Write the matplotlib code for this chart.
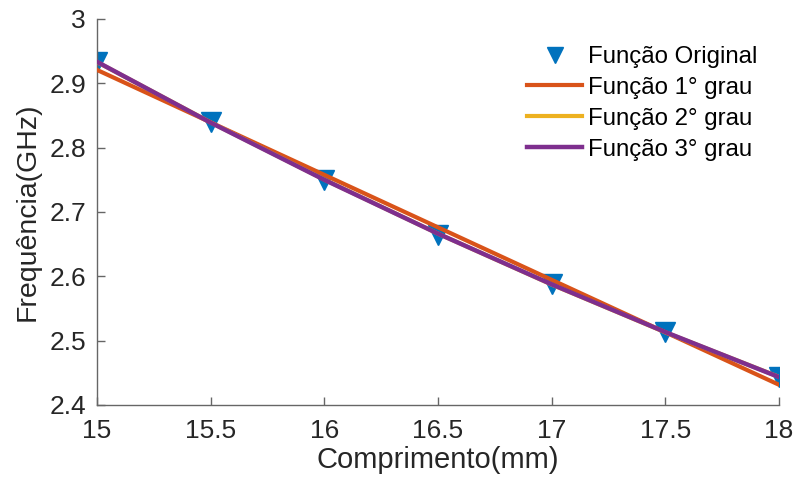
import numpy as np
import matplotlib
matplotlib.use("Agg")
import matplotlib.pyplot as plt

plt.rcParams['font.family'] = ['Liberation Sans', 'DejaVu Sans']

comprimento = [15.0, 15.5, 16.0, 16.5, 17.0, 17.5, 18.0]
frequencia = [2.933, 2.840, 2.750, 2.665, 2.588, 2.514, 2.443]
x_ticks = [15, 15.5, 16, 16.5, 17, 17.5, 18]
y_ticks = [2.4, 2.5, 2.6, 2.7, 2.8, 2.9, 3.0]

c_blue = (0.0, 0.447, 0.741)
c_orange = (0.85, 0.325, 0.098)
c_yellow = (0.929, 0.694, 0.125)
c_purple = (0.494, 0.184, 0.556)

x = np.array(comprimento)
y = np.array(frequencia)
fit1 = np.polyval(np.polyfit(x, y, 1), x)
fit2 = np.polyval(np.polyfit(x, y, 2), x)
fit3 = np.polyval(np.polyfit(x, y, 3), x)

fig = plt.figure(figsize=(7.97, 4.96), dpi=100)
ax = fig.add_axes([0.1217, 0.1835, 0.8557, 0.7782])

ax.plot(x, y, linestyle='none', marker='v', markersize=14, color=c_blue,
        label='Função Original', zorder=2)
ax.plot(x, fit1, color=c_orange, linewidth=3, label='Função 1° grau', zorder=3)
ax.plot(x, fit2, color=c_yellow, linewidth=3, label='Função 2° grau', zorder=4)
ax.plot(x, fit3, color=c_purple, linewidth=3.2, label='Função 3° grau', zorder=5)

ax.set_xlim(15, 18)
ax.set_ylim(2.4, 3.0)
ax.set_xticks(x_ticks)
ax.set_xticklabels(['15', '15.5', '16', '16.5', '17', '17.5', '18'])
ax.set_yticks(y_ticks)
ax.set_yticklabels(['2.4', '2.5', '2.6', '2.7', '2.8', '2.9', '3'])

axis_gray = (0.4, 0.4, 0.4)
text_col = (0.15, 0.15, 0.15)
for side in ['top', 'right']:
    ax.spines[side].set_visible(False)
for side in ['left', 'bottom']:
    ax.spines[side].set_color(axis_gray)
    ax.spines[side].set_linewidth(1.0)
ax.tick_params(direction='in', length=6, width=1.0, color=axis_gray,
               labelsize=19, labelcolor=text_col)
ax.tick_params(axis='x', pad=10)
ax.tick_params(axis='y', pad=8)

ax.set_xlabel('Comprimento(mm)', fontsize=21, color=text_col, labelpad=2)
ax.set_ylabel('Frequência(GHz)', fontsize=20.5, color=text_col, labelpad=6)

leg = ax.legend(loc='upper right', frameon=False, fontsize=17.3,
                handlelength=2.3, handletextpad=0.25, borderaxespad=0.0,
                labelspacing=0.37, markerscale=0.85,
                bbox_to_anchor=(0.983, 0.955))

fig.savefig('out.png', dpi=100)
